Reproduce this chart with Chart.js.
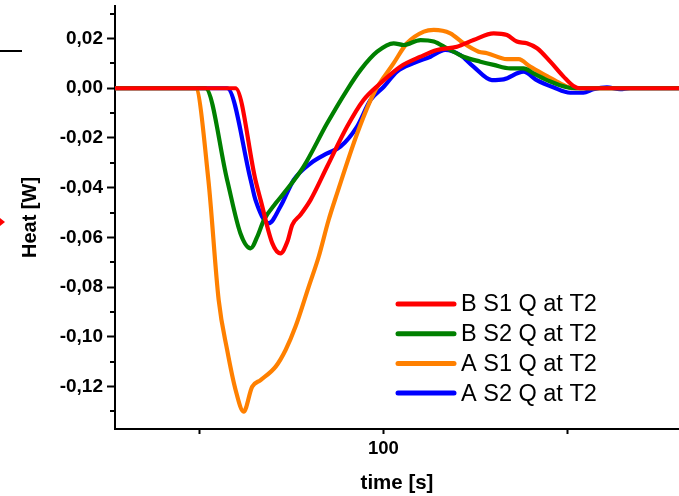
<!DOCTYPE html>
<html>
<head>
<meta charset="utf-8">
<script src="https://cdn.jsdelivr.net/npm/chart.js@4"></script>
<style>
  body { margin: 0; background: #fff; }
  canvas { display: block; }
</style>
</head>
<body>
<canvas id="chart" width="679" height="496"></canvas>
<script>
// values: time [s] / heat [W]
const bS1Time = [27, 59.8, 65.2, 66.6, 69.8, 72.0, 73.9, 75.2, 77.4, 80.2, 84.7, 90.1, 94.6, 99.2, 104.6, 110.1, 114.6, 120.0, 124.5, 130.0, 133.6, 136.3, 139.0, 141.8, 145.4, 149.0, 151.7, 153.5, 181];
const bS1Heat = [0, 0, -0.0369, -0.0449, -0.0624, -0.0664, -0.0617, -0.0550, -0.0510, -0.0449, -0.0315, -0.0155, -0.0047, 0.0020, 0.0087, 0.0127, 0.0154, 0.0167, 0.0194, 0.0221, 0.0214, 0.0188, 0.0181, 0.0161, 0.0107, 0.0047, 0.0009, 0, 0];

const bS2Time = [27, 51.6, 57.5, 61.1, 63.9, 65.7, 67.5, 70.7, 72.9, 78.3, 84.7, 90.1, 93.8, 98.3, 102.8, 105.5, 110.1, 113.7, 117.3, 121.8, 126.4, 130.0, 134.5, 138.1, 140.8, 145.4, 149.9, 153.5, 181];
const bS2Heat = [0, 0, -0.0369, -0.0583, -0.0644, -0.0597, -0.0530, -0.0463, -0.0423, -0.0315, -0.0141, -0.0007, 0.0074, 0.0147, 0.0181, 0.0174, 0.0194, 0.0188, 0.0161, 0.0127, 0.0107, 0.0094, 0.0080, 0.0080, 0.0060, 0.0027, 0.0004, 0, 0];

const aS1Time = [27, 48.9, 52.4, 55.2, 57.5, 59.8, 62.0, 64.3, 66.6, 70.7, 73.4, 76.1, 79.7, 82.4, 85.1, 87.4, 92.9, 97.4, 102.8, 106.4, 111.0, 113.7, 118.2, 121.8, 125.9, 128.2, 133.6, 136.8, 139.9, 144.5, 148.1, 151.7, 181];
const aS1Heat = [0, 0, -0.0369, -0.0852, -0.1053, -0.1214, -0.1301, -0.1201, -0.1174, -0.1120, -0.1053, -0.0959, -0.0798, -0.0678, -0.0530, -0.0423, -0.0181, -0.0020, 0.0101, 0.0181, 0.0228, 0.0235, 0.0221, 0.0181, 0.0147, 0.0141, 0.0117, 0.0117, 0.0087, 0.0049, 0.0020, 0, 0];

const aS2Time = [27, 57.5, 63.9, 65.2, 68.8, 72.0, 75.6, 80.2, 84.7, 88.3, 92.8, 96.5, 100.1, 103.7, 108.2, 112.8, 116.8, 120.9, 124.5, 129.5, 132.7, 138.1, 141.7, 146.2, 150.8, 154.4, 157.1, 160.8, 164.4, 167.1, 181];
const aS2Heat = [0, 0, -0.0369, -0.0449, -0.0543, -0.0476, -0.0369, -0.0302, -0.0262, -0.0235, -0.0155, -0.0047, 0.0006, 0.0067, 0.0101, 0.0127, 0.0154, 0.0134, 0.0087, 0.0033, 0.0036, 0.0067, 0.0033, 0.0004, -0.0018, -0.0018, -0.0004, 0.0004, -0.0004, 0, 0];

const seriesLabels = ['B S1 Q at T2', 'B S2 Q at T2', 'A S1 Q at T2', 'A S2 Q at T2'];
const seriesColors = ['#ff0000', '#008000', '#ff8000', '#0000ff'];

const xLabeledTicks = [100];
const yLabeledTicks = [0.02, 0, -0.02, -0.04, -0.06, -0.08, -0.10, -0.12];

const FONT = "'Liberation Sans', Arial, sans-serif";

function toPoints(xs, ys) {
  return xs.map((x, i) => ({ x: x, y: ys[i] }));
}

function isLabeledY(v) {
  return yLabeledTicks.some(t => Math.abs(t - v) < 1e-6);
}

const series = [
  toPoints(bS1Time, bS1Heat),
  toPoints(bS2Time, bS2Heat),
  toPoints(aS1Time, aS1Heat),
  toPoints(aS2Time, aS2Heat)
];

// short unlabeled ticks on the y axis
const minorTicks = {
  id: 'minorTicks',
  afterDraw(chart) {
    const ctx = chart.ctx;
    const y = chart.scales.y;
    const left = chart.chartArea.left;
    ctx.save();
    ctx.strokeStyle = '#000';
    ctx.lineWidth = 2;
    y.ticks.forEach(t => {
      if (isLabeledY(t.value)) return;
      const py = Math.round(y.getPixelForValue(t.value));
      ctx.beginPath();
      ctx.moveTo(left - 5, py);
      ctx.lineTo(left, py);
      ctx.stroke();
    });
    ctx.restore();
  }
};

// legend inside the plot, lower right
const insideLegend = {
  id: 'insideLegend',
  afterDraw(chart) {
    const ctx = chart.ctx;
    ctx.save();
    ctx.font = '23.5px ' + FONT;
    ctx.textBaseline = 'middle';
    chart.data.datasets.forEach((ds, i) => {
      const yy = 304 + i * 29.7;
      ctx.strokeStyle = ds.borderColor;
      ctx.lineWidth = 5;
      ctx.lineCap = 'round';
      ctx.beginPath();
      ctx.moveTo(398, yy);
      ctx.lineTo(454, yy);
      ctx.stroke();
      ctx.fillStyle = '#000';
      ctx.fillText(ds.label, 461, yy + 1);
    });
    ctx.restore();
  }
};

// bits of the neighbouring figure that were cut into the picture
const cropBits = {
  id: 'cropBits',
  afterDraw(chart) {
    const ctx = chart.ctx;
    ctx.save();
    ctx.strokeStyle = '#000';
    ctx.lineWidth = 2;
    ctx.beginPath();
    ctx.moveTo(0, 51);
    ctx.lineTo(22, 51);
    ctx.stroke();
    ctx.fillStyle = '#ff0000';
    ctx.beginPath();
    ctx.moveTo(0, 218);
    ctx.lineTo(5, 222);
    ctx.lineTo(0, 226);
    ctx.closePath();
    ctx.fill();
    ctx.restore();
  }
};

new Chart(document.getElementById('chart'), {
  type: 'line',
  data: {
    datasets: series.map((pts, i) => ({
      label: seriesLabels[i],
      data: pts,
      borderColor: seriesColors[i],
      borderWidth: 4.2,
      pointRadius: 0,
      cubicInterpolationMode: 'monotone',
      fill: false
    }))
  },
  options: {
    responsive: false,
    animation: false,
    layout: { padding: { top: 6, right: 0, left: 0, bottom: 0 } },
    plugins: { legend: { display: false }, tooltip: { enabled: false } },
    scales: {
      x: {
        type: 'linear',
        min: 27,
        max: 180.4,
        afterFit: s => { s.height = 67; s.paddingLeft = 0; s.paddingRight = 0; },
        border: { display: true, color: '#000', width: 2 },
        grid: { drawOnChartArea: false, color: '#000', tickLength: 5, tickWidth: 2 },
        ticks: {
          stepSize: 50,
          includeBounds: false,
          autoSkip: false,
          maxRotation: 0,
          padding: 4,
          color: '#000',
          font: { family: FONT, size: 18.5, weight: 'bold' },
          callback: v => xLabeledTicks.includes(v) ? String(v) : ''
        },
        title: {
          display: true,
          text: 'time [s]',
          color: '#000',
          font: { family: FONT, size: 20.5, weight: 'bold' },
          padding: { top: 0, bottom: 0 }
        }
      },
      y: {
        min: -0.1371,
        max: 0.0331,
        afterFit: s => { s.width = 115; s.paddingTop = 0; s.paddingBottom = 0; },
        border: { display: true, color: '#000', width: 2 },
        grid: {
          drawOnChartArea: false,
          tickLength: 8,
          tickWidth: 2,
          color: c => (c.tick && isLabeledY(c.tick.value)) ? '#000' : 'rgba(0,0,0,0)'
        },
        ticks: {
          stepSize: 0.01,
          includeBounds: false,
          autoSkip: false,
          padding: 4,
          color: '#000',
          font: { family: FONT, size: 19, weight: 'bold' },
          callback: v => isLabeledY(v) ? v.toFixed(2).replace('.', ',') : ''
        },
        title: {
          display: true,
          text: 'Heat [W]',
          color: '#000',
          font: { family: FONT, size: 20, weight: 'bold' },
          padding: { top: 18, bottom: 0 }
        }
      }
    }
  },
  plugins: [minorTicks, insideLegend, cropBits]
});
</script>
</body>
</html>
